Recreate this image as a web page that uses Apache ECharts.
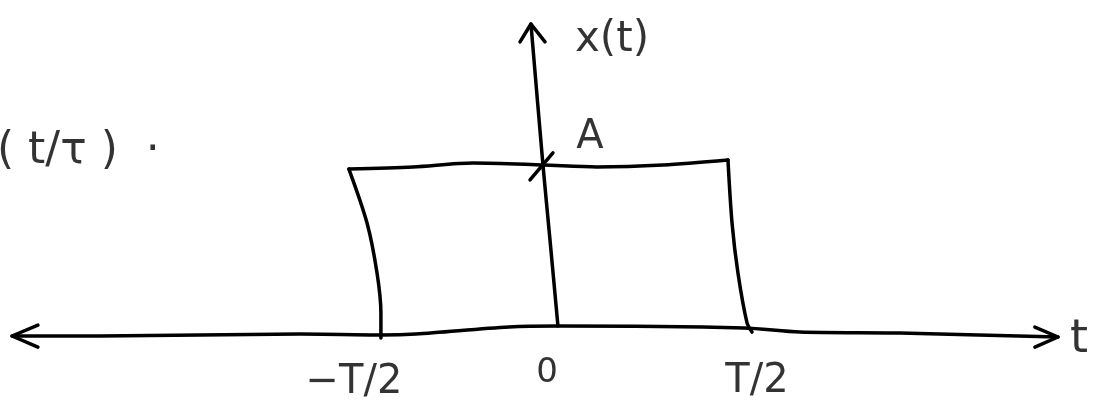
<!DOCTYPE html>
<html>
<head>
<meta charset="utf-8">
<script src="https://cdn.jsdelivr.net/npm/echarts@6/dist/echarts.min.js"></script>
<style>
  html, body { margin: 0; padding: 0; background: #fff; }
  #chart { width: 1100px; height: 411px; }
</style>
</head>
<body>
<div id="chart"></div>
<script>
// units: t in T/2, x(t) in A (wobble included)
var tAxisT = [-2.951, -2.476, -1.395, -0.951, -0.768, -0.265, 0.005, 1.005, 1.308, 1.849, 2.703]
var tAxisY = [-0.049, -0.049, -0.037, -0.043, -0.037, 0.006, 0.012, 0, -0.025, -0.031, -0.055]
var leftArrowT = [-2.811, -2.951, -2.811]
var leftArrowY = [0.018, -0.049, -0.117]
var rightArrowT = [2.578, 2.703, 2.578]
var rightArrowY = [0.006, -0.055, -0.117]

var xAxisT = [0, -0.043, -0.081, -0.146]
var xAxisY = [0.012, 0.54, 1.0, 1.865]
var upArrowT = [-0.205, -0.146, -0.070]
var upArrowY = [1.755, 1.865, 1.755]
var markT = [-0.151, -0.027]
var markY = [0.908, 1.074]

var leftEdgeT = [-0.957, -0.957, -0.978, -1.032, -1.130]
var leftEdgeY = [-0.061, 0.092, 0.337, 0.644, 0.975]
var topEdgeT = [-1.130, -0.784, -0.459, -0.081, 0.211, 0.568, 0.919]
var topEdgeY = [0.975, 0.988, 1.012, 1.0, 0.988, 1.0, 1.031]
var rightEdgeT = [0.919, 0.941, 0.973, 1.022, 1.049]
var rightEdgeY = [1.031, 0.644, 0.337, 0.031, -0.025]

var labelText = ['x(t)', 'A', '−T/2', '0', 'T/2', 't']
var labelT = [0.292, 0.173, -1.103, -0.059, 1.076, 2.816]
var labelY = [1.767, 1.166, -0.337, -0.276, -0.331, -0.074]
var labelSize = [42, 40, 40, 34, 40, 46]

var pairs = function (ts, ys) {
  var out = []
  for (var i = 0; i < ts.length; i++) {
    out.push([ts[i], ys[i]])
  }
  return out
}

var stroke = function (ts, ys, smooth) {
  return {
    type: 'line',
    data: pairs(ts, ys),
    showSymbol: false,
    smooth: smooth || 0,
    clip: false,
    silent: true,
    lineStyle: { color: '#000', width: 3.5, cap: 'round', join: 'round' }
  }
}

var labels = {
  type: 'scatter',
  symbolSize: 0,
  silent: true,
  clip: false,
  data: labelText.map(function (txt, i) {
    return {
      name: txt,
      value: [labelT[i], labelY[i]],
      label: {
        show: true,
        position: 'inside',
        formatter: '{b}',
        color: '#000',
        fontFamily: 'DejaVu Sans',
        fontSize: labelSize[i]
      }
    }
  })
}

var rectLabel = {
  type: 'scatter',
  symbolSize: 0,
  silent: true,
  clip: false,
  data: [{
    name: '( t/τ )  ·',
    value: [-3.0, 1.08],
    label: {
      show: true,
      position: 'inside',
      align: 'left',
      offset: [-6, 0],
      formatter: '{b}',
      color: '#000',
      fontFamily: 'DejaVu Sans',
      fontSize: 44
    }
  }]
}

var option = {
  animation: false,
  backgroundColor: '#fff',
  grid: { left: 0, right: 0, top: 0, bottom: 0 },
  xAxis: {
    type: 'value',
    min: -3.016,
    max: 2.930,
    show: false
  },
  yAxis: {
    type: 'value',
    min: -0.509,
    max: 2.012,
    show: false
  },
  series: [
    stroke(tAxisT, tAxisY, 0.3),
    stroke(leftArrowT, leftArrowY),
    stroke(rightArrowT, rightArrowY),
    stroke(xAxisT, xAxisY, 0.3),
    stroke(upArrowT, upArrowY),
    stroke(markT, markY),
    stroke(leftEdgeT, leftEdgeY, 0.3),
    stroke(topEdgeT, topEdgeY, 0.3),
    stroke(rightEdgeT, rightEdgeY, 0.3),
    labels,
    rectLabel
  ]
}

var myChart = echarts.init(document.getElementById('chart'))
myChart.setOption(option)
</script>
</body>
</html>
